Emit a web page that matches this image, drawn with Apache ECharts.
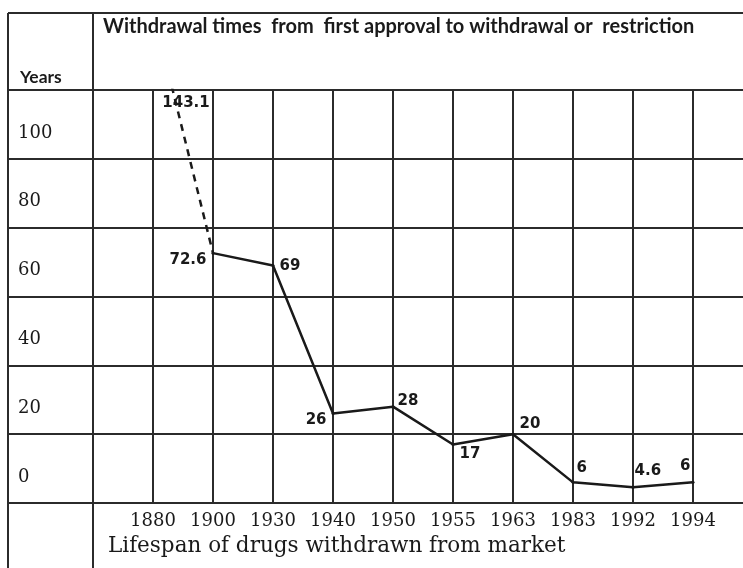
<!DOCTYPE html>
<html>
<head>
<meta charset="utf-8">
<title>Withdrawal times</title>
<script src="https://cdn.jsdelivr.net/npm/echarts@6/dist/echarts.min.js"></script>
<style>
html,body{margin:0;padding:0;background:#fff;}
#chart{width:743px;height:568px;}
</style>
</head>
<body>
<div id="chart"></div>
<script>
// data
var years    = ['', '1880', '1900', '1930', '1940', '1950', '1955', '1963', '1983', '1992', '1994', ''];
var lifespan = ['-', '-', 72.6, 69, 26, 28, 17, 20, 6, 4.6, 6, '-'];
var offScale = ['-', 143.1, 72.6, '-', '-', '-', '-', '-', '-', '-', '-', '-'];   // 1880 runs off the top
var yLabels  = ['0', '20', '40', '60', '80', '100', ''];

// where the handwritten numbers sit round each point
var labelPos = [null, null,
	['left', [0, 7]], ['right', [0, 1]], ['left', [0, 7]], ['right', [-2, -6]],
	['right', [0, 10]], ['right', [0, -10]], ['right', [-3, -14]], ['right', [-5, -16]],
	['left', [4, -16]], null];

var ink = '#1a1a1a';
var rule = '#2b2b2b';
var handFont = {fontFamily: 'DejaVu Sans', fontWeight: 'bold', fontSize: 15, color: ink};

var solidData = lifespan.map(function (v, i) {
	if (v === '-') return '-';
	return {value: v, label: {position: labelPos[i][0], offset: labelPos[i][1]}};
});

var myChart = echarts.init(document.getElementById('chart'));
var option = {
	backgroundColor: '#fff',
	animation: false,
	title: [
		{
			text: 'Withdrawal times  from  first approval to withdrawal or  restriction',
			left: 103, top: 17, padding: 0,
			textStyle: {fontFamily: 'Lato', fontWeight: 'bold', fontSize: 20, color: ink}
		},
		{
			text: 'Years',
			left: 20, top: 68, padding: 0,
			textStyle: {fontFamily: 'Lato', fontWeight: 'bold', fontSize: 17.5, color: ink}
		},
		{
			text: 'Lifespan of drugs withdrawn from market',
			left: 108, top: 535, padding: 0,
			textStyle: {fontFamily: 'DejaVu Serif', fontWeight: 'normal', fontSize: 21.5, color: ink}
		}
	],
	grid: [
		// last empty category sits just past the right edge
		{left: 93, width: 660, top: 90, bottom: 65, outerBoundsMode: 'none'},
		{left: 8, width: 85, top: 90, bottom: 65, outerBoundsMode: 'none'}
	],
	xAxis: [
		{
			type: 'category',
			gridIndex: 0,
			data: years,
			boundaryGap: false,
			axisLine: {show: true, lineStyle: {color: rule, width: 2}},
			axisTick: {show: false},
			axisLabel: {
				interval: 0, margin: 9,
				fontFamily: 'DejaVu Serif', fontSize: 18, color: ink
			},
			splitLine: {show: true, interval: 0, lineStyle: {color: rule, width: 2}}
		},
		{type: 'value', gridIndex: 1, show: false, min: 0, max: 1}
	],
	yAxis: [
		{
			type: 'value',
			gridIndex: 0,
			min: 0, max: 120, interval: 20,
			axisLine: {show: false},
			axisTick: {show: false},
			axisLabel: {show: false},
			splitLine: {show: true, lineStyle: {color: rule, width: 2}}
		},
		{
			type: 'value',
			gridIndex: 1,
			min: 0, max: 120, interval: 20,
			axisLine: {show: false},
			axisTick: {show: false},
			axisLabel: {
				inside: true, margin: 10,
				verticalAlign: 'bottom', lineHeight: 18, padding: [0, 0, 17, 0],
				fontFamily: 'DejaVu Serif', fontSize: 18, color: ink,
				formatter: function (v) { return yLabels[v / 20]; }
			},
			splitLine: {show: true, lineStyle: {color: rule, width: 2}}
		}
	],
	series: [
		{
			type: 'line',
			xAxisIndex: 0, yAxisIndex: 0,
			data: offScale,
			clip: true,
			symbol: 'none',
			lineStyle: {color: ink, width: 2.5, type: [7, 6]},
			markPoint: {
				symbol: 'circle', symbolSize: 0,
				label: {show: true, position: 'inside', offset: [33, 13], formatter: '{c}', fontFamily: 'DejaVu Sans', fontWeight: 'bold', fontSize: 15, color: ink},
				data: [{coord: ['1880', 120], value: offScale[1]}]
			},
			z: 3
		},
		{
			type: 'line',
			xAxisIndex: 0, yAxisIndex: 0,
			data: solidData,
			symbol: 'circle', symbolSize: 3,
			itemStyle: {color: ink},
			lineStyle: {color: ink, width: 2.5},
			label: Object.assign({show: true}, handFont),
			z: 4
		}
	],
	graphic: [
		{type: 'line', shape: {x1: 8, y1: 13, x2: 743, y2: 13}, style: {stroke: rule, lineWidth: 2}},
		{type: 'line', shape: {x1: 8, y1: 13, x2: 8, y2: 568}, style: {stroke: rule, lineWidth: 2}},
		{type: 'line', shape: {x1: 93, y1: 13, x2: 93, y2: 568}, style: {stroke: rule, lineWidth: 2}}
	]
};
myChart.setOption(option);
</script>
</body>
</html>
